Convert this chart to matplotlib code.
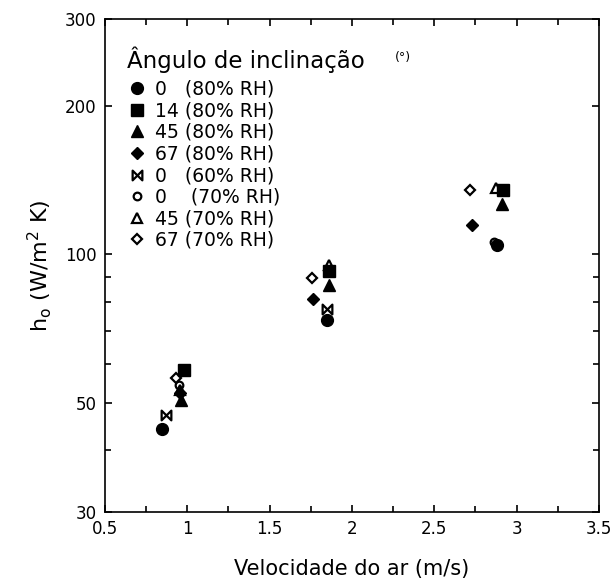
#Heat transfer coefficient vs air velocity, log y axis
import numpy as np
import matplotlib.pyplot as plt
from matplotlib.path import Path
from matplotlib.ticker import FixedLocator, NullFormatter, FixedFormatter

plt.rcParams['font.family'] = ['DejaVu Sans']

#Data: velocity (m/s) and h_o (W/m2 K)
vel_0_80 = [0.845, 1.848, 2.878]
h_0_80 = [44.2, 73.5, 104.3]
vel_14_80 = [0.977, 1.862, 2.919]
h_14_80 = [58.1, 92.5, 135.0]
vel_45_80 = [0.962, 1.862, 2.909]
h_45_80 = [50.5, 86.5, 126.6]
vel_67_80 = [0.957, 1.766, 2.732]
h_67_80 = [52.2, 81.3, 114.5]
vel_0_60 = [0.872, 1.848]
h_0_60 = [47.1, 77.5]
vel_0_70 = [0.947, 1.848, 2.860]
h_0_70 = [54.2, 74.0, 106.0]
vel_45_70 = [0.957, 1.862, 2.874]
h_45_70 = [53.0, 95.0, 136.0]
vel_67_70 = [0.933, 1.760, 2.720]
h_67_70 = [56.1, 89.5, 135.0]

labels = ['0   (80% RH)', '14 (80% RH)', '45 (80% RH)', '67 (80% RH)',
          '0   (60% RH)', '0    (70% RH)', '45 (70% RH)', '67 (70% RH)']

yticks = [30, 50, 100, 200, 300]
yminor = [40, 60, 70, 80, 90]

#bowtie marker
bowtie = Path([(-1, 1), (-1, -1), (1, 1), (1, -1), (-1, 1)],
              [Path.MOVETO, Path.LINETO, Path.LINETO, Path.LINETO, Path.CLOSEPOLY])

fig = plt.figure(figsize=(6.12, 5.83), dpi=100)
ax = fig.add_axes([0.1716, 0.1218, 0.807, 0.8456])

k = dict(linestyle='none', color='black')
ax.plot(vel_0_80, h_0_80, marker='o', ms=8.5, label=labels[0], zorder=4, **k)
ax.plot(vel_14_80, h_14_80, marker='s', ms=8, label=labels[1], zorder=4, **k)
ax.plot(vel_45_80, h_45_80, marker='^', ms=8.5, label=labels[2], zorder=4, **k)
ax.plot(vel_67_80, h_67_80, marker='D', ms=6, label=labels[3], zorder=4, **k)
ax.plot(vel_0_60, h_0_60, marker=bowtie, ms=7, mfc='white', mew=1.6, label=labels[4], zorder=3, **k)
ax.plot(vel_0_70, h_0_70, marker='o', ms=5.5, mfc='white', mew=1.6, label=labels[5], zorder=2, **k)
ax.plot(vel_45_70, h_45_70, marker='^', ms=6.5, mfc='white', mew=1.6, label=labels[6], zorder=2, **k)
ax.plot(vel_67_70, h_67_70, marker='D', ms=5.5, mfc='white', mew=1.6, label=labels[7], zorder=2, **k)

ax.set_yscale('log')
ax.set_xlim(0.5, 3.5)
ax.set_ylim(30, 300)
ax.yaxis.set_major_locator(FixedLocator(yticks))
ax.yaxis.set_major_formatter(FixedFormatter([str(t) for t in yticks]))
ax.yaxis.set_minor_locator(FixedLocator(yminor))
ax.yaxis.set_minor_formatter(NullFormatter())
ax.set_xticks(np.arange(0.5, 3.51, 0.5))
ax.set_xticklabels(['0.5', '1', '1.5', '2', '2.5', '3', '3.5'])
ax.set_xticks(np.arange(0.75, 3.5, 0.5), minor=True)

ax.tick_params(which='both', direction='in', top=True, right=True, labelsize=12, width=1.2)
ax.tick_params(which='major', length=5, pad=6)
ax.tick_params(which='minor', length=4)
for s in ax.spines.values():
    s.set_linewidth(1.2)

ax.set_xlabel('Velocidade do ar (m/s)', fontsize=15, labelpad=15)
ax.set_ylabel(r'h$_\mathregular{o}$ (W/m$^\mathregular{2}$ K)', fontsize=16, labelpad=8)

leg = ax.legend(loc='upper left', bbox_to_anchor=(0.045, 0.945), frameon=False,
                borderpad=0, fontsize=13.5, title='Ângulo de inclinação',
                title_fontsize=16.5, alignment='left', handlelength=1.0,
                handletextpad=0.5, labelspacing=0.14, borderaxespad=0)
leg._legend_box.sep = 5
ax.text(0.587, 0.921, '(°)', transform=ax.transAxes, fontsize=9, va='center')

plt.savefig('out.png', dpi=100)
